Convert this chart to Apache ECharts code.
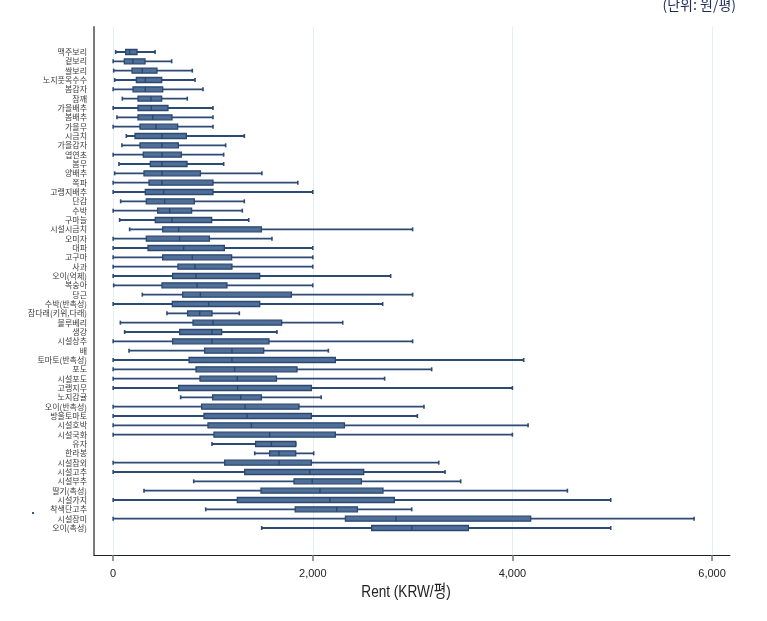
<!DOCTYPE html>
<html>
<head>
<meta charset="utf-8">
<script src="https://cdn.jsdelivr.net/npm/echarts@6/dist/echarts.min.js"></script>
<style>
html,body{margin:0;padding:0;background:#fff;}
#chart{width:767px;height:621px;}
</style>
</head>
<body>
<div id="chart"></div>
<script>
const categories = ["맥주보리","겉보리","쌀보리","노지풋옥수수","봄감자","참깨","가을배추","봄배추","가을무","시금치","가을감자","엽연초","봄무","양배추","쪽파","고랭지배추","단감","수박","구마늘","시설시금치","오미자","대파","고구마","사과","오이(억제)","복숭아","당근","수박(반촉성)","참다래(키위,다래)","블루베리","생강","시설상추","배","토마토(반촉성)","포도","시설포도","고랭지무","노지감귤","오이(반촉성)","방울토마토","시설호박","시설국화","유자","한라봉","시설참외","시설고추","시설부추","딸기(촉성)","시설가지","착색단고추","시설장미","오이(촉성)"];
const whiskerLow = [25,0,5,15,0,92,0,38,0,132,88,0,58,15,0,0,75,0,65,165,0,0,0,0,0,5,292,0,539,72,115,0,159,0,0,0,0,676,0,0,0,0,990,1418,0,0,807,309,0,927,0,1488];
const q1 = [125,112,189,232,199,249,249,249,269,219,269,302,372,309,359,322,332,446,422,496,332,349,496,649,596,489,696,593,746,800,666,596,917,760,830,870,656,997,887,910,950,1010,1427,1568,1117,1318,1812,1481,1244,1824,2327,2590];
const median = [165,198,292,322,322,379,382,396,429,489,489,489,489,489,489,506,516,566,589,656,666,706,793,820,830,840,874,957,867,1000,990,990,1190,1190,1217,1244,1247,1278,1321,1341,1385,1568,1585,1661,1662,1969,1994,2072,2171,2240,2834,2991];
const q3 = [239,319,439,486,496,486,549,589,646,733,653,683,740,874,1000,1000,813,786,987,1485,964,1114,1187,1190,1468,1140,1785,1468,990,1688,1087,1561,1508,2226,1842,1636,1986,1485,1862,1986,2317,2226,1829,1829,1986,2510,2487,2703,2817,2447,4183,3559];
const whiskerHigh = [420,586,793,820,900,743,1000,1000,1000,1314,1127,1107,1107,1490,1850,2000,1314,1294,1358,3000,1591,2000,2000,2000,2780,2000,3000,2700,1264,2300,1641,3000,2156,4113,3191,2720,4000,2084,3114,3048,4157,4000,1829,2009,3262,3325,3482,4551,4985,2991,5820,4985];
const xTicks = [0,2000,4000,6000];
const xTitle = 'Rent (KRW/평)';
const unitNote = '(단위: 원/평)';

const data = categories.map((c,i)=>[i, whiskerLow[i], q1[i], median[i], q3[i], whiskerHigh[i]]);

const XMIN = -192, XMAX = 6180;
const fontLat = '"Liberation Sans",Arial,sans-serif';

const chart = echarts.init(document.getElementById('chart'), null, {renderer:'canvas'});

function renderItem(params, api){
  const i = api.value(0);
  const lo = api.coord([api.value(1), i]);
  const b1 = api.coord([api.value(2), i]);
  const md = api.coord([api.value(3), i]);
  const b3 = api.coord([api.value(4), i]);
  const hi = api.coord([api.value(5), i]);
  const y = lo[1];
  const bh = 5, ch = 4;
  const wColor = '#2c4a73';
  return {
    type:'group',
    children:[
      {type:'line', shape:{x1:lo[0],y1:y,x2:hi[0],y2:y}, style:{stroke:wColor,lineWidth:1.8}},
      {type:'line', shape:{x1:lo[0],y1:y-ch/2,x2:lo[0],y2:y+ch/2}, style:{stroke:wColor,lineWidth:1.6}},
      {type:'line', shape:{x1:hi[0],y1:y-ch/2,x2:hi[0],y2:y+ch/2}, style:{stroke:wColor,lineWidth:1.6}},
      {type:'rect', shape:{x:b1[0],y:y-bh/2,width:b3[0]-b1[0],height:bh}, style:{fill:'#4f6f99',stroke:'#2b4870',lineWidth:1.3}},
      {type:'line', shape:{x1:md[0],y1:y-bh/2,x2:md[0],y2:y+bh/2}, style:{stroke:'#2b4870',lineWidth:1.4}}
    ]
  };
}

const option = {
  backgroundColor:'#fff',
  animation:false,
  grid:[
    {left:94, right:37, top:47.33, height:485.33, containLabel:false},
    {left:94, right:37, top:27, height:528, containLabel:false}
  ],
  xAxis:[
    {gridIndex:0, type:'value', min:XMIN, max:XMAX, show:false, splitLine:{show:false}},
    {gridIndex:1, type:'value', min:XMIN, max:XMAX, position:'bottom',
      axisLine:{show:true, onZero:false, lineStyle:{color:'#222', width:1}},
      axisTick:{show:true, customValues:xTicks, length:6, lineStyle:{color:'#777', width:1.5}},
      axisLabel:{show:true, customValues:xTicks, margin:13, fontSize:11, color:'#222', fontFamily:fontLat,
        formatter:v=>v.toLocaleString('en-US')},
      splitLine:{show:false}
    }
  ],
  yAxis:[
    {gridIndex:0, type:'category', data:categories, inverse:true,
      axisLine:{show:false, onZero:false}, axisTick:{show:false}, splitLine:{show:false},
      axisLabel:{show:true, interval:0, fontSize:8, color:'#3a3a3a', margin:7, fontFamily:'"Noto Sans CJK KR",sans-serif'}
    },
    {gridIndex:1, type:'value', min:0, max:1, position:'left',
      axisLine:{show:true, onZero:false, lineStyle:{color:'#7a7a7a', width:2}},
      axisTick:{show:false}, axisLabel:{show:false}, splitLine:{show:false}
    }
  ],
  series:[
    {type:'line', xAxisIndex:1, yAxisIndex:1, data:[], silent:true,
      markLine:{silent:true, symbol:['none','none'], label:{show:false},
        lineStyle:{color:'#e3edf2', width:1, type:'solid'},
        data:xTicks.map(v=>({xAxis:v}))}
    },
    {type:'custom', xAxisIndex:0, yAxisIndex:0, renderItem:renderItem,
      encode:{x:[1,2,3,4,5], y:0}, data:data, z:5}
  ],
  graphic:[
    {type:'text', x:406, y:592, scaleX:0.8, style:{x:0, y:0, text:xTitle, textAlign:'center', textVerticalAlign:'middle',
      fontSize:17, fill:'#222', fontFamily:'"Liberation Sans","Noto Sans CJK KR",sans-serif'}},
    {type:'text', style:{x:736, y:5, text:unitNote, textAlign:'right', textVerticalAlign:'middle',
      fontSize:14, fill:'#1f2d5a', fontFamily:'"Noto Sans CJK KR",sans-serif'}},
    {type:'rect', shape:{x:32, y:512, width:2, height:2}, style:{fill:'#3a5a8a'}}
  ]
};
chart.setOption(option);
</script>
</body>
</html>
